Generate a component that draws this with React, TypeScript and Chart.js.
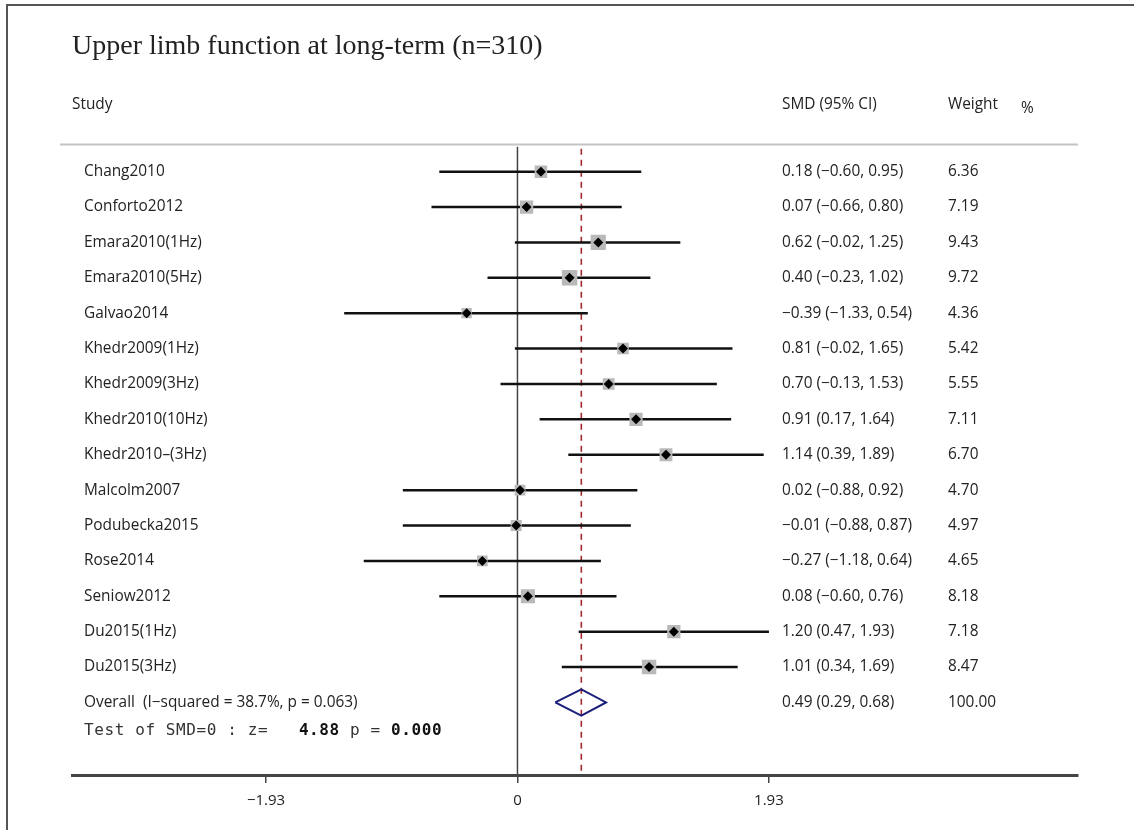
import React, { useEffect, useRef } from "react";
import { Chart, registerables } from "chart.js";

Chart.register(...registerables);

// Study-level standardised mean differences with 95% CI and weights (%)
const studies = [
  "Chang2010",
  "Conforto2012",
  "Emara2010(1Hz)",
  "Emara2010(5Hz)",
  "Galvao2014",
  "Khedr2009(1Hz)",
  "Khedr2009(3Hz)",
  "Khedr2010(10Hz)",
  "Khedr2010–(3Hz)",
  "Malcolm2007",
  "Podubecka2015",
  "Rose2014",
  "Seniow2012",
  "Du2015(1Hz)",
  "Du2015(3Hz)",
];
const smd = [0.18, 0.07, 0.62, 0.4, -0.39, 0.81, 0.7, 0.91, 1.14, 0.02, -0.01, -0.27, 0.08, 1.2, 1.01];
const ciLow = [-0.6, -0.66, -0.02, -0.23, -1.33, -0.02, -0.13, 0.17, 0.39, -0.88, -0.88, -1.18, -0.6, 0.47, 0.34];
const ciHigh = [0.95, 0.8, 1.25, 1.02, 0.54, 1.65, 1.53, 1.64, 1.89, 0.92, 0.87, 0.64, 0.76, 1.93, 1.69];
const weights = [6.36, 7.19, 9.43, 9.72, 4.36, 5.42, 5.55, 7.11, 6.7, 4.7, 4.97, 4.65, 8.18, 7.18, 8.47];

// Pooled estimate
const overallLabel = "Overall  (I−squared = 38.7%, p = 0.063)";
const overallSmd = 0.49;
const overallLow = 0.29;
const overallHigh = 0.68;
const overallWeight = 100.0;
const testZ = "4.88";
const testP = "0.000";

const titleText = "Upper limb function at long-term (n=310)";
const xTicks = [-1.93, 0, 1.93];

// Layout
const W = 1134;
const H = 830;
const X_MIN = -3.419;
const X_MAX = 4.302;
const Y_MIN = -0.764;
const Y_MAX = 17.05;
const OVERALL_ROW = studies.length;
const TEST_ROW = 15.81;
const DIAMOND_HALF = 0.37;
const BOX_SCALE = 3.5;

const TEXT_FONT = "'Open Sans', 'Noto Sans', sans-serif";
const MONO_FONT = "'DejaVu Sans Mono', monospace";
const TEXT_COLOR = "#222";

const fmt = (v: number) => v.toFixed(2).replace("-", "−");
const tickFmt = (v: number) => (v === 0 ? "0" : fmt(v));

const forestText = {
  id: "forestText",
  afterDraw(chart: any) {
    const { ctx, scales } = chart;
    const yS = scales.y;
    const ca = chart.chartArea;
    ctx.save();

    // outer frame (top and left edges)
    ctx.strokeStyle = "#555";
    ctx.lineWidth = 2;
    ctx.beginPath();
    ctx.moveTo(W, 5);
    ctx.lineTo(7, 5);
    ctx.lineTo(7, H);
    ctx.stroke();

    // header rule
    ctx.strokeStyle = "#c4c4c4";
    ctx.lineWidth = 2;
    ctx.beginPath();
    ctx.moveTo(60, ca.top);
    ctx.lineTo(ca.right, ca.top);
    ctx.stroke();

    ctx.fillStyle = TEXT_COLOR;
    ctx.textBaseline = "middle";
    ctx.textAlign = "left";
    ctx.font = `15.4px ${TEXT_FONT}`;
    ctx.fillText("Study", 72, 105);
    ctx.fillText("SMD (95% CI)", 782, 105);
    ctx.fillText("Weight", 948, 105);
    ctx.fillText("%", 1021, 109);

    const nameX = 84;
    const smdX = 782;
    const wX = 948;
    studies.forEach((s, i) => {
      const y = yS.getPixelForValue(i);
      ctx.fillText(s, nameX, y);
      ctx.fillText(`${fmt(smd[i])} (${fmt(ciLow[i])}, ${fmt(ciHigh[i])})`, smdX, y);
      ctx.fillText(weights[i].toFixed(2), wX, y);
    });
    const yo = yS.getPixelForValue(OVERALL_ROW);
    ctx.fillText(overallLabel, nameX, yo);
    ctx.fillText(`${fmt(overallSmd)} (${fmt(overallLow)}, ${fmt(overallHigh)})`, smdX, yo);
    ctx.fillText(overallWeight.toFixed(2), wX, yo);

    // z-test line in monospace
    const yt = yS.getPixelForValue(TEST_ROW);
    const parts: [string, boolean][] = [
      ["Test of SMD=0 : z=   ", false],
      [testZ, true],
      [" p = ", false],
      [testP, true],
    ];
    let x = nameX;
    (ctx as any).letterSpacing = "0.6px";
    parts.forEach(([t, bold]) => {
      ctx.font = `${bold ? "bold " : ""}16px ${MONO_FONT}`;
      ctx.fillStyle = bold ? "#111" : "#333";
      ctx.fillText(t, x, yt);
      x += ctx.measureText(t).width;
    });
    (ctx as any).letterSpacing = "0px";
    ctx.restore();
  },
};

export default function App() {
  const ref = useRef<HTMLCanvasElement | null>(null);

  useEffect(() => {
    if (!ref.current) return;

    const ciSets = studies.map((_, i) => ({
      type: "line" as const,
      data: [
        { x: ciLow[i], y: i },
        { x: ciHigh[i], y: i },
      ],
      borderColor: "#111",
      borderWidth: 2.5,
      pointRadius: 0,
      order: 4,
    }));

    const chart = new Chart(ref.current, {
      type: "scatter",
      data: {
        datasets: [
          {
            type: "line",
            data: [
              { x: 0, y: Y_MIN + 0.06 },
              { x: 0, y: Y_MAX },
            ],
            borderColor: "#444",
            borderWidth: 1.5,
            pointRadius: 0,
            order: 6,
          },
          {
            type: "line",
            data: [
              { x: overallSmd, y: Y_MIN + 0.12 },
              { x: overallSmd, y: Y_MAX },
            ],
            borderColor: "#a3282c",
            borderWidth: 1.6,
            borderDash: [6, 5],
            pointRadius: 0,
            order: 5,
          },
          ...ciSets,
          {
            data: smd.map((v, i) => ({ x: v, y: i })),
            pointStyle: "rect",
            pointRadius: (c: any) => BOX_SCALE * Math.sqrt(weights[c.dataIndex] ?? 0),
            backgroundColor: "#b9b9b9",
            borderWidth: 0,
            order: 3,
          },
          {
            data: smd.map((v, i) => ({ x: v, y: i })),
            pointStyle: "rectRot",
            pointRadius: 5,
            backgroundColor: "#000",
            borderWidth: 0,
            order: 2,
          },
          {
            type: "line",
            data: [
              { x: overallLow, y: OVERALL_ROW },
              { x: overallSmd, y: OVERALL_ROW - DIAMOND_HALF },
              { x: overallHigh, y: OVERALL_ROW },
              { x: overallSmd, y: OVERALL_ROW + DIAMOND_HALF },
              { x: overallLow, y: OVERALL_ROW },
            ],
            borderColor: "#1b1f7a",
            borderWidth: 2,
            borderJoinStyle: "miter",
            pointRadius: 0,
            tension: 0,
            fill: false,
            order: 1,
          },
        ] as any,
      },
      options: {
        animation: false,
        responsive: false,
        layout: { padding: { left: 72, right: 56, top: 0, bottom: 11 } },
        plugins: {
          legend: { display: false },
          tooltip: { enabled: false },
          title: {
            display: true,
            text: titleText,
            align: "start",
            color: TEXT_COLOR,
            font: { family: "'Liberation Serif', 'Times New Roman', serif", size: 28, weight: "normal" },
            padding: { top: 30, bottom: 81 },
          },
        },
        scales: {
          x: {
            type: "linear",
            min: X_MIN,
            max: X_MAX,
            afterBuildTicks: (axis: any) => {
              axis.ticks = xTicks.map((v) => ({ value: v }));
            },
            grid: {
              display: true,
              drawOnChartArea: false,
              drawTicks: true,
              tickLength: 8,
              color: "#444",
              lineWidth: 1.5,
            },
            border: { display: true, color: "#444", width: 3 },
            ticks: {
              callback: (v: any) => tickFmt(Number(v)),
              font: { family: TEXT_FONT, size: 15 },
              color: TEXT_COLOR,
              padding: 9,
              autoSkip: false,
              maxRotation: 0,
            },
          },
          y: {
            type: "linear",
            display: false,
            reverse: true,
            min: Y_MIN,
            max: Y_MAX,
          },
        },
      },
      plugins: [forestText],
    });

    return () => chart.destroy();
  }, []);

  return (
    <canvas
      ref={ref}
      width={W}
      height={H}
      style={{ position: "absolute", left: 0, top: 0, display: "block", background: "#fff" }}
    />
  );
}
